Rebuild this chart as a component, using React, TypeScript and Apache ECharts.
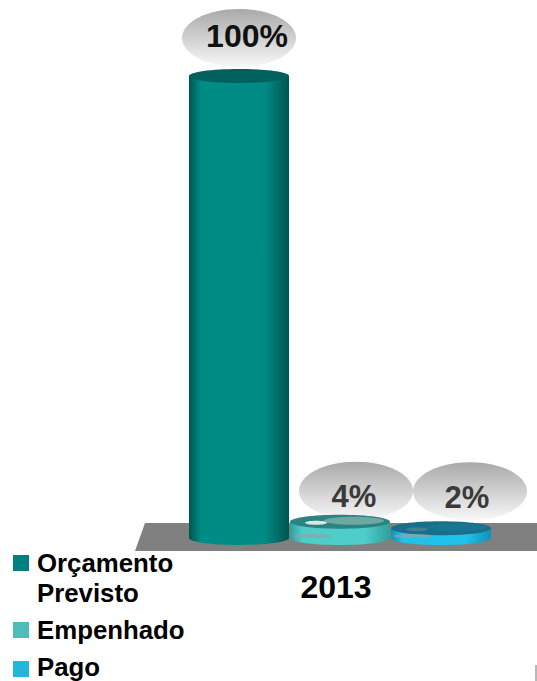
import React, { useEffect, useRef } from "react";
import * as echarts from "echarts";

const categories = ["2013"];
const seriesNames = ["Orçamento\nPrevisto", "Empenhado", "Pago"];
const seriesValues = [100, 3.5, 2.1];
const valueLabels = ["100%", "4%", "2%"];
const legendColors = ["#008080", "#4dbdb9", "#22b5de"];

const FONT = '"Liberation Sans", Arial, sans-serif';
const styles = [
  { edge: "#005450", mid: "#008c86", cap: "#00605e", sheen: "#00605e", text: "#111111", size: 32, dx: 0, dy: 38, tx: 8, ty: 38 },
  { edge: "#2f9f9c", mid: "#4fcdc8", cap: "#2c8482", sheen: "#6fa8a3", text: "#3a3a3a", size: 31, dx: 16, dy: 31, tx: 14, ty: 23 },
  { edge: "#128fb5", mid: "#20c2ec", cap: "#176f8b", sheen: "#1a7590", text: "#3a3a3a", size: 31, dx: 29, dy: 37, tx: 26, ty: 29 },
];
const BAR_W = 100;
const RY = 7;
const OFFSETS = [-97, 4, 105];

function renderCylinder(idx: number) {
  return (_: any, api: any) => {
    const s = styles[idx];
    const [cx0, top] = api.coord([0, api.value(1)]);
    const [, base] = api.coord([0, 0]);
    const cx = cx0 + OFFSETS[idx];
    const l = cx - BAR_W / 2;
    const grad = new echarts.graphic.LinearGradient(0, 0, 1, 0, [
      { offset: 0, color: s.edge },
      { offset: 0.12, color: s.mid },
      { offset: 0.75, color: s.mid },
      { offset: 1, color: s.edge },
    ]);
    const labelGrad = new echarts.graphic.LinearGradient(0, 0, 0, 1, [
      { offset: 0, color: "#a9a9a9" },
      { offset: 1, color: "#f8f8f8" },
    ]);
    const children: any[] = [
      { type: "ellipse", shape: { cx: cx + s.dx, cy: top - s.dy, rx: 57, ry: 29 }, style: { fill: labelGrad } },
      { type: "ellipse", shape: { cx, cy: base, rx: BAR_W / 2, ry: RY }, style: { fill: grad } },
      { type: "rect", shape: { x: l, y: top, width: BAR_W, height: base - top }, style: { fill: grad } },
      { type: "ellipse", shape: { cx, cy: top, rx: BAR_W / 2, ry: RY }, style: { fill: s.cap } },
    ];
    if (idx > 0) {
      children.push(
        { type: "ellipse", shape: { cx: cx + 14, cy: top - 1, rx: 30, ry: 4 }, style: { fill: s.sheen } },
        { type: "ellipse", shape: { cx: cx - 24, cy: top + 1, rx: 11, ry: 2 }, style: { fill: idx === 1 ? "#d5e8e6" : "#3f7f8e" } },
        { type: "ellipse", shape: { cx: cx - 28, cy: base - 2, rx: 20, ry: 2 }, style: { fill: "#8aa5a5", opacity: 0.7 } }
      );
    }
    children.push({
      type: "text",
      x: cx + s.tx,
      y: top - s.ty - 2,
      style: { text: valueLabels[idx], fill: s.text, font: `bold ${s.size}px ${FONT}`, align: "center", verticalAlign: "middle" },
    });
    return { type: "group", children };
  };
}

export default function App() {
  const ref = useRef<HTMLDivElement>(null);
  useEffect(() => {
    const chart = echarts.init(ref.current!, undefined, { renderer: "svg" });
    const legendY = [555, 622, 661];
    const legendTextY = [548, 615, 652];
    chart.setOption({
      animation: false,
      backgroundColor: "#ffffff",
      grid: { left: 135, right: 0, top: 76, bottom: 143 },
      xAxis: {
        type: "category",
        data: categories,
        axisLine: { show: false },
        axisTick: { show: false },
        axisLabel: { margin: 33, color: "#000", fontFamily: FONT, fontWeight: "bold", fontSize: 32 },
      },
      yAxis: { type: "value", min: 0, max: 100, show: false },
      series: seriesNames.map((name, i) => ({
        type: "custom",
        name,
        coordinateSystem: "cartesian2d",
        clip: false,
        z: 3 + i,
        data: [[categories[0], seriesValues[i]]],
        encode: { x: 0, y: 1 },
        renderItem: renderCylinder(i),
      })),
      graphic: [
        { type: "polygon", z: 0, shape: { points: [[145, 523], [537, 523], [537, 551], [135, 551]] }, style: { fill: "#808080" } },
        { type: "rect", z: 0, shape: { x: 535, y: 665, width: 2, height: 16 }, style: { fill: "#b8b8b8" } },
        ...seriesNames.flatMap((name, i) => [
          { type: "rect", shape: { x: 13, y: legendY[i], width: 16, height: 16 }, style: { fill: legendColors[i] } },
          {
            type: "text",
            x: 37,
            y: legendTextY[i],
            style: {
              text: name,
              fill: "#000",
              font: `bold 25.8px ${FONT}`,
              lineHeight: 30,
              align: "left",
              verticalAlign: "top",
            },
          },
        ]),
      ],
    });
    return () => chart.dispose();
  }, []);
  return <div ref={ref} style={{ position: "fixed", left: 0, top: 0, width: 537, height: 681 }} />;
}
